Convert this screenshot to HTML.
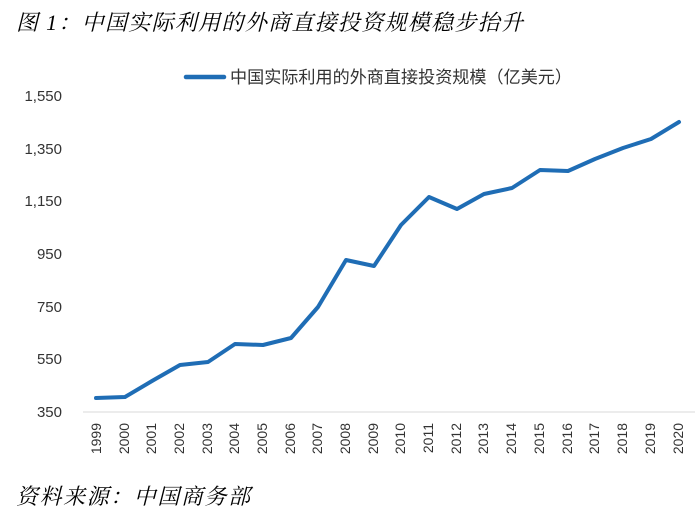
<!DOCTYPE html>
<html><head><meta charset="utf-8"><style>
body{margin:0;background:#fff;}
svg{display:block;}
</style></head><body>
<svg width="700" height="520" viewBox="0 0 700 520" xmlns="http://www.w3.org/2000/svg">
<text x="16" y="30" font-family="Liberation Serif, Noto Serif CJK SC, serif" font-style="italic" font-size="22" textLength="507" lengthAdjust="spacing" fill="#000">图 1：中国实际利用的外商直接投资规模稳步抬升</text>
<line x1="186" y1="77" x2="224" y2="77" stroke="#1f6db5" stroke-width="4.5" stroke-linecap="round"/>
<text x="230" y="83" font-family="Liberation Sans, Noto Sans CJK SC, sans-serif" font-size="17" textLength="342" lengthAdjust="spacingAndGlyphs" fill="#333">中国实际利用的外商直接投资规模（亿美元）</text>
<g font-family="Liberation Sans, sans-serif" font-size="15" fill="#333" text-anchor="end">
<text x="62" y="101">1,550</text>
<text x="62" y="154">1,350</text>
<text x="62" y="206">1,150</text>
<text x="62" y="259">950</text>
<text x="62" y="312">750</text>
<text x="62" y="364">550</text>
<text x="62" y="417">350</text>
</g>
<line x1="83" y1="412" x2="695" y2="412" stroke="#d9d9d9" stroke-width="1"/>
<g font-family="Liberation Sans, sans-serif" font-size="14" fill="#333" text-anchor="end">
<text transform="translate(101,423) rotate(-90)">1999</text>
<text transform="translate(129,423) rotate(-90)">2000</text>
<text transform="translate(156,423) rotate(-90)">2001</text>
<text transform="translate(184,423) rotate(-90)">2002</text>
<text transform="translate(212,423) rotate(-90)">2003</text>
<text transform="translate(239,423) rotate(-90)">2004</text>
<text transform="translate(267,423) rotate(-90)">2005</text>
<text transform="translate(295,423) rotate(-90)">2006</text>
<text transform="translate(322,423) rotate(-90)">2007</text>
<text transform="translate(350,423) rotate(-90)">2008</text>
<text transform="translate(378,423) rotate(-90)">2009</text>
<text transform="translate(405,423) rotate(-90)">2010</text>
<text transform="translate(433,423) rotate(-90)">2011</text>
<text transform="translate(461,423) rotate(-90)">2012</text>
<text transform="translate(488,423) rotate(-90)">2013</text>
<text transform="translate(516,423) rotate(-90)">2014</text>
<text transform="translate(544,423) rotate(-90)">2015</text>
<text transform="translate(572,423) rotate(-90)">2016</text>
<text transform="translate(599,423) rotate(-90)">2017</text>
<text transform="translate(627,423) rotate(-90)">2018</text>
<text transform="translate(655,423) rotate(-90)">2019</text>
<text transform="translate(683,423) rotate(-90)">2020</text>
</g>
<polyline fill="none" stroke="#1f6db5" stroke-width="4" stroke-linejoin="round" stroke-linecap="round"
points="96,398 125,397 152,381 180,365 208,362 235,344 263,345 291,338 318,307 346,260 374,266 401,225 429,197 457,209 484,194 512,188 540,170 568,171 595,159 623,148 651,139 679,122"/>
<text x="16" y="504" font-family="Liberation Serif, Noto Serif CJK SC, serif" font-style="italic" font-size="22" textLength="234" lengthAdjust="spacing" fill="#000">资料来源：中国商务部</text>
</svg>
</body></html>
